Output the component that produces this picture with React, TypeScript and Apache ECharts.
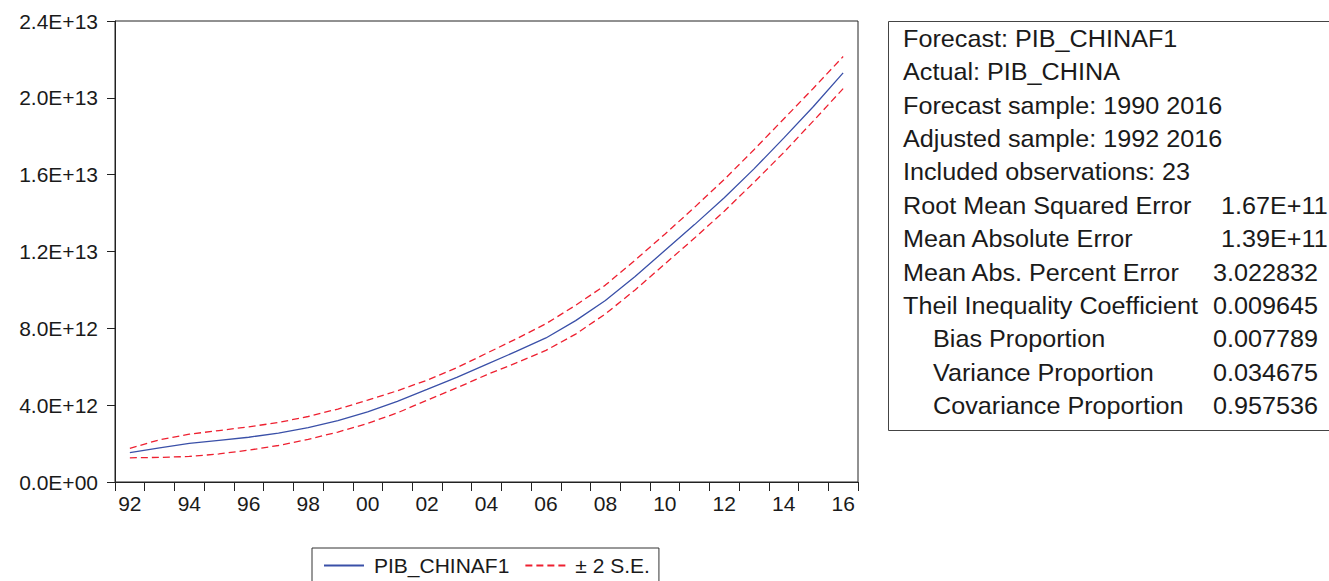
import React, { useEffect, useRef } from "react";
import * as echarts from "echarts";

const years = ["92","93","94","95","96","97","98","99","00","01","02","03","04","05","06","07","08","09","10","11","12","13","14","15","16"];
// values in units of 1E+12
const forecast = [1.53,1.78,2.01,2.17,2.33,2.55,2.83,3.2,3.65,4.2,4.82,5.45,6.12,6.8,7.5,8.4,9.45,10.7,12.05,13.4,14.8,16.3,17.9,19.55,21.3];
const upper = [1.75,2.2,2.49,2.68,2.87,3.1,3.41,3.8,4.26,4.75,5.3,5.95,6.7,7.45,8.24,9.2,10.25,11.55,12.9,14.3,15.75,17.3,18.9,20.5,22.15];
const lower = [1.26,1.28,1.33,1.46,1.66,1.9,2.22,2.6,3.05,3.6,4.26,4.9,5.58,6.2,6.85,7.7,8.75,10.0,11.35,12.7,14.1,15.6,17.15,18.8,20.48];

const statLabels = [
  "Forecast: PIB_CHINAF1",
  "Actual: PIB_CHINA",
  "Forecast sample: 1990 2016",
  "Adjusted sample: 1992 2016",
  "Included observations: 23",
  "Root Mean Squared Error",
  "Mean Absolute Error",
  "Mean Abs. Percent Error",
  "Theil Inequality Coefficient",
  "Bias Proportion",
  "Variance Proportion",
  "Covariance Proportion",
];
const statValues = ["", "", "", "", "", "1.67E+11", "1.39E+11", "3.022832", "0.009645", "0.007789", "0.034675", "0.957536"];
const statIndent = [false, false, false, false, false, false, false, false, false, true, true, true];

const FONT = '"Liberation Sans", Arial, sans-serif';
const TXT = "#1a1a1a";

function sci(v: number): string {
  const val = v * 1e12;
  if (val === 0) return "0.0E+00";
  const e = Math.floor(Math.log10(Math.abs(val)) + 1e-9);
  const m = val / Math.pow(10, e);
  const es = (e >= 0 ? "+" : "-") + String(Math.abs(e)).padStart(2, "0");
  return m.toFixed(1) + "E" + es;
}

export default function App() {
  const ref = useRef<HTMLDivElement>(null);
  useEffect(() => {
    if (!ref.current) return;
    const chart = echarts.init(ref.current, undefined, { renderer: "svg" });
    const graphics: any[] = [
      {
        type: "rect",
        shape: { x: 888.5, y: 21.5, width: 470, height: 409 },
        style: { fill: "none", stroke: "#444", lineWidth: 1 },
      },
    ];
    statLabels.forEach((t, i) => {
      const y = 38.5 + 33.4 * i;
      graphics.push({
        type: "text",
        x: statIndent[i] ? 933 : 903,
        y,
        scaleX: 1.05,
        style: { text: t, font: `24px ${FONT}`, fill: TXT, verticalAlign: "middle", textVerticalAlign: "middle" },
      });
      if (statValues[i]) {
        const vx = statValues[i].indexOf("E") >= 0 ? 1221 : 1213;
        graphics.push({
          type: "text",
          x: vx,
          y,
          scaleX: 1.05,
          style: { text: statValues[i], font: `24px ${FONT}`, fill: TXT, verticalAlign: "middle", textVerticalAlign: "middle" },
        });
      }
    });

    chart.setOption({
      animation: false,
      backgroundColor: "#fff",
      textStyle: { fontFamily: FONT },
      grid: { left: 115, right: 471, top: 21, bottom: 99, show: true, borderColor: "#222", borderWidth: 1, backgroundColor: "transparent" },
      legend: {
        left: 312,
        top: 548,
        orient: "horizontal",
        borderColor: "#333",
        borderWidth: 1,
        padding: [7, 9, 7, 11],
        itemWidth: 40,
        itemHeight: 20,
        itemGap: 15,
        itemStyle: { opacity: 0 },
        textStyle: { fontSize: 21, fontFamily: FONT, color: TXT, padding: [0, 0, 0, 5] },
        data: ["PIB_CHINAF1", "± 2 S.E."],
      },
      xAxis: {
        type: "category",
        data: years,
        boundaryGap: true,
        axisLine: { show: true, lineStyle: { color: "#222", width: 1 } },
        axisTick: { show: true, interval: 0, length: 9, lineStyle: { color: "#222" } },
        axisLabel: { interval: 1, fontSize: 21, fontFamily: FONT, color: TXT, margin: 11 },
        splitLine: { show: false },
      },
      yAxis: {
        type: "value",
        min: 0,
        max: 24,
        interval: 4,
        axisLine: { show: true, lineStyle: { color: "#222", width: 1 } },
        axisTick: { show: true, length: 8, lineStyle: { color: "#222" } },
        axisLabel: { fontSize: 21, fontFamily: FONT, color: TXT, margin: 17, formatter: (v: number) => sci(v) },
        splitLine: { show: false },
      },
      series: [
        {
          name: "PIB_CHINAF1",
          type: "line",
          data: forecast,
          symbol: "none",
          lineStyle: { color: "#3a50a8", width: 1.3 },
          itemStyle: { color: "#3a50a8" },
        },
        {
          name: "± 2 S.E.",
          type: "line",
          data: upper,
          symbol: "none",
          lineStyle: { color: "#ee2030", width: 1.3, type: [7, 4] },
          itemStyle: { color: "#ee2030" },
        },
        {
          name: "± 2 S.E.",
          type: "line",
          data: lower,
          symbol: "none",
          lineStyle: { color: "#ee2030", width: 1.3, type: [7, 4] },
          itemStyle: { color: "#ee2030" },
        },
      ],
      graphic: graphics,
    });
    return () => chart.dispose();
  }, []);
  return (
    <div
      ref={ref}
      style={{ position: "fixed", left: 0, top: 0, width: 1329, height: 581, background: "#fff" }}
    />
  );
}
